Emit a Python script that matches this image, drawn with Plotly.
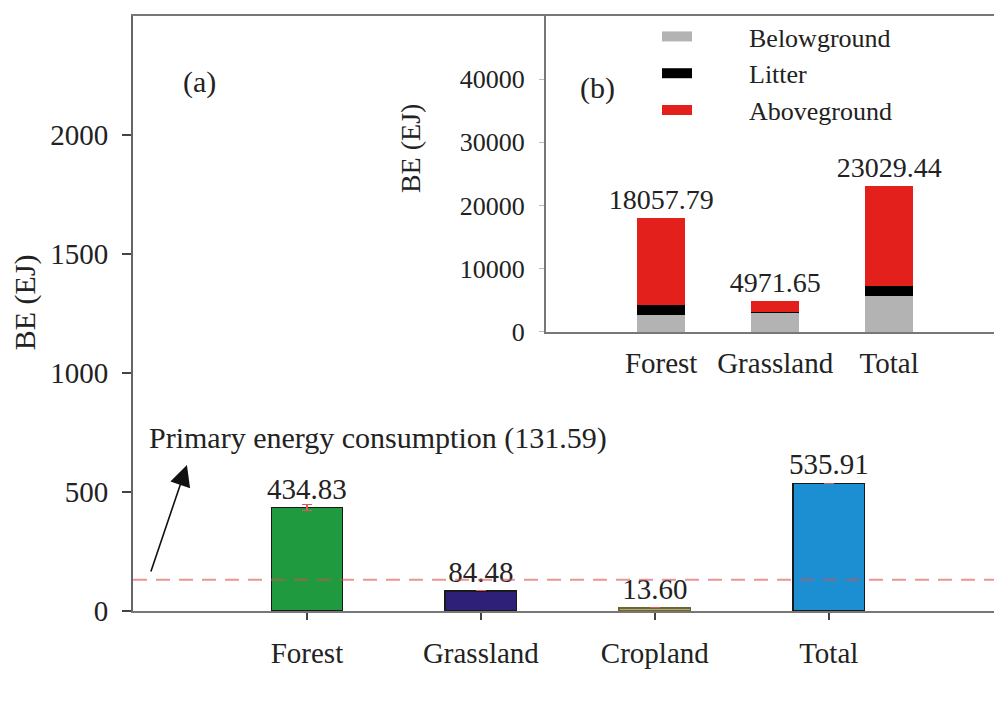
import plotly.graph_objects as go

# ---- data: panel (a) ----
categories = ["Forest", "Grassland", "Cropland", "Total"]
be_values = [434.83, 84.48, 13.60, 535.91]
be_errors = [12, None, None, None]
bar_colors = ["#1f9a3f", "#2e2078", "#b5ab6a", "#1b8fd2"]
bar_edges = ["#1a1a1a", "#1a1a1a", "#6b6530", "#1a1a1a"]
primary_energy = 131.59
main_ticks = [0, 500, 1000, 1500, 2000]

# ---- data: panel (b) ----
inset_categories = ["Forest", "Grassland", "Total"]
belowground_parts = [2650, 3050]      # Forest, Grassland
litter_parts = [1550, 100]
aboveground_parts = [13857.79, 1821.65]
inset_ticks = [0, 10000, 20000, 30000, 40000]

belowground = belowground_parts + [sum(belowground_parts)]
litter = litter_parts + [sum(litter_parts)]
aboveground = aboveground_parts + [sum(aboveground_parts)]
inset_totals = [b + l + a for b, l, a in zip(belowground, litter, aboveground)]

SERIF = "Liberation Serif, Times New Roman, serif"
TXT = "#222222"
PAD = "\u00a0" * 8

fig = go.Figure()

fig.add_trace(go.Bar(
    x=categories, y=be_values, width=0.41,
    marker=dict(color=bar_colors, line=dict(color=bar_edges, width=1.5)),
    text=[f"{v:.2f}" for v in be_values], textposition="outside",
    textfont=dict(family=SERIF, size=29, color=TXT),
    constraintext="none", cliponaxis=False,
    error_y=dict(type="data", array=be_errors, color="#e05a5a", thickness=1.2, width=5),
    showlegend=False, xaxis="x", yaxis="y", hoverinfo="x+y",
))

stack_specs = [
    ("Belowground", belowground, "#b3b3b3"),
    ("Litter", litter, "#000000"),
    ("Aboveground", aboveground, "#e3201c"),
]
for i, (name, vals, col) in enumerate(stack_specs):
    top = i == len(stack_specs) - 1
    fig.add_trace(go.Bar(
        x=inset_categories, y=vals, width=0.42, name=name,
        marker=dict(color=col, line=dict(width=0)),
        text=[f"{v:.2f}" for v in inset_totals] if top else None,
        textposition="outside" if top else "none",
        textfont=dict(family=SERIF, size=28, color=TXT),
        constraintext="none", cliponaxis=False,
        showlegend=False, xaxis="x2", yaxis="y2",
    ))
    # legend key
    fig.add_trace(go.Scatter(
        x=[None], y=[None], mode="lines", name=PAD + name,
        line=dict(color=col, width=10),
        xaxis="x2", yaxis="y2", showlegend=True,
    ))

fig.add_shape(type="line", xref="paper", yref="y", x0=0, x1=1,
              y0=primary_energy, y1=primary_energy,
              line=dict(color="rgba(215,80,75,0.6)", width=2, dash="14px,9px"),
              layer="above")

annotations = [
    dict(x=-0.69, y=613, ax=-0.9, ay=160, xref="x", yref="y", axref="x", ayref="y",
         text="", showarrow=True, arrowhead=2, arrowsize=2.6, arrowwidth=1.6,
         arrowcolor="#111111"),
    dict(x=-0.92, y=728, xref="x", yref="y", xanchor="left", yanchor="middle",
         text=f"Primary energy consumption ({primary_energy:.2f})", showarrow=False,
         font=dict(family=SERIF, size=30, color=TXT)),
    dict(x=-0.62, y=2223, xref="x", yref="y", text="(a)", showarrow=False,
         xanchor="center", yanchor="middle",
         font=dict(family=SERIF, size=30, color=TXT)),
    dict(x=-0.56, y=38600, xref="x2", yref="y2", text="(b)", showarrow=False,
         xanchor="center", yanchor="middle",
         font=dict(family=SERIF, size=30, color=TXT)),
    dict(x=-0.1254, y=0.519, xref="paper", yref="paper", text="BE (EJ)", textangle=-90,
         xanchor="center", yanchor="middle",
         showarrow=False, font=dict(family=SERIF, size=30, color=TXT)),
    dict(x=0.3217, y=0.778, xref="paper", yref="paper", text="BE (EJ)", textangle=-90,
         xanchor="center", yanchor="middle",
         showarrow=False, font=dict(family=SERIF, size=28, color=TXT)),
]

fig.update_layout(
    width=994, height=704,
    margin=dict(l=133, r=0, t=16, b=93),
    paper_bgcolor="white", plot_bgcolor="white",
    barmode="stack",
    font=dict(family=SERIF, size=28, color=TXT),
    annotations=annotations,
    xaxis=dict(domain=[0, 1], range=[-1, 3.95], anchor="y",
               showline=True, linecolor="#777777", linewidth=2, mirror=True,
               ticks="outside", ticklen=7, tickcolor="#444444", tickwidth=1.5,
               tickfont=dict(family=SERIF, size=29, color=TXT),
               ticklabelstandoff=8, showgrid=False, zeroline=False),
    yaxis=dict(domain=[0, 1], range=[0, 2500], anchor="x",
               tickvals=main_ticks, showline=True, linecolor="#666666", linewidth=2,
               ticks="outside", ticklen=9, tickcolor="#444444", tickwidth=1.5,
               tickfont=dict(family=SERIF, size=29, color=TXT),
               ticklabelstandoff=8, showgrid=False, zeroline=False),
    xaxis2=dict(domain=[0.4797, 1], range=[-1.01, 2.92], anchor="y2",
                showline=True, linecolor="#777777", linewidth=2, mirror=True,
                ticks="", tickfont=dict(family=SERIF, size=29, color=TXT),
                ticklabelstandoff=4, showgrid=False, zeroline=False),
    yaxis2=dict(domain=[0.469, 1], range=[0, 50000], anchor="x2",
                tickvals=inset_ticks, tickformat="d",
                showline=True, linecolor="#777777", linewidth=2,
                ticks="outside", ticklen=5, tickcolor="#bbbbbb",
                tickfont=dict(family=SERIF, size=26, color=TXT),
                ticklabelstandoff=9, showgrid=False, zeroline=False),
    legend=dict(x=0.6086, y=1.005, xanchor="left", yanchor="top",
                bgcolor="rgba(0,0,0,0)", itemwidth=30, traceorder="normal",
                font=dict(family=SERIF, size=26, color=TXT),
                tracegroupgap=0),
    showlegend=True,
)

fig.write_html("out.html", config={"displayModeBar": False},
               post_script="document.body.style.margin='0';")
